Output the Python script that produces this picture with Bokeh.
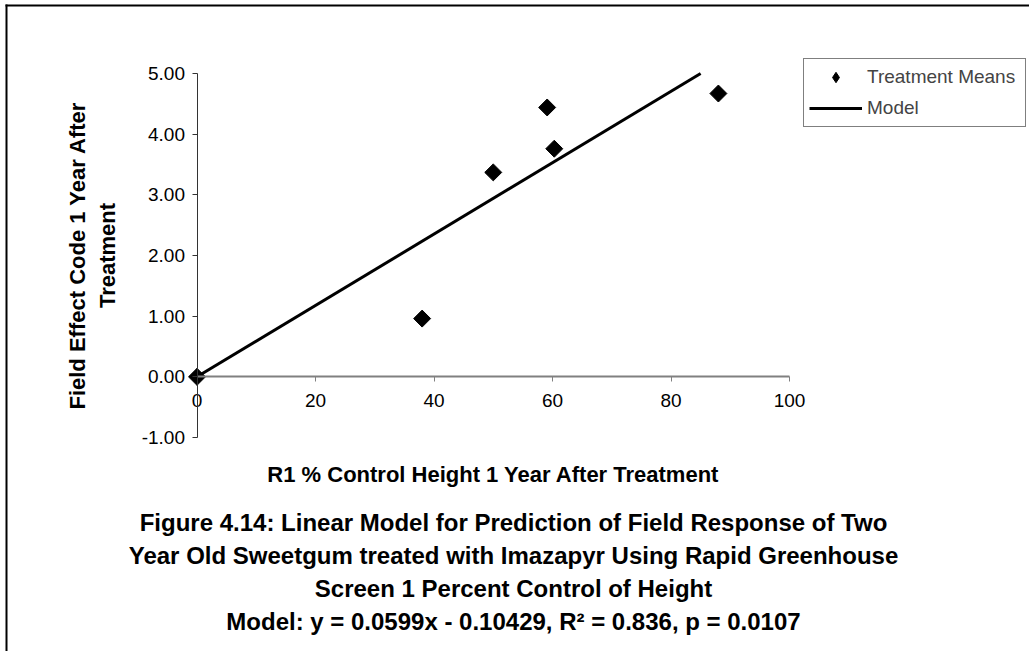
import math
from bokeh.plotting import figure
from bokeh.models import (Range1d, FixedTicker, NumeralTickFormatter, Legend,
                          LegendItem, Label, BoxAnnotation)
from bokeh.embed import file_html
from bokeh.resources import INLINE

# ---- data ----
means_x = [0.0, 38.0, 50.0, 59.1, 60.3, 88.0]
means_y = [0.0, 0.96, 3.37, 4.44, 3.76, 4.67]
model_x = [0.0, 85.0]
model_y = [0.0, 5.0]
x_ticks = [0, 20, 40, 60, 80, 100]
y_ticks = [-1, 0, 1, 2, 3, 4, 5]

series_names = ["Treatment Means", "Model"]
x_title = "R1 % Control Height 1 Year After Treatment"
y_title = "Field Effect Code 1 Year After\nTreatment"
caption_lines = [
    "Figure 4.14: Linear Model for Prediction of Field Response of Two",
    "Year Old Sweetgum treated with Imazapyr Using Rapid Greenhouse",
    "Screen 1 Percent Control of Height",
    "Model: y = 0.0599x - 0.10429, R\u00b2 = 0.836, p = 0.0107",
]

FONT = "Liberation Sans"
W, H = 1029, 651

# layout: plot area (x 0..100, y -1..5) placed in pixels; the whole canvas is the frame
X0_PX, X100_PX = 196.5, 789.0
YM1_PX, Y5_PX = 437.0, 73.0
sx = (X100_PX - X0_PX) / 100.0
sy = (YM1_PX - Y5_PX) / 6.0


def dx(px):
    return (px - X0_PX) / sx


def dy(py):
    return 5.0 - (py - Y5_PX) / sy


p = figure(width=W, height=H,
           x_range=Range1d(dx(0), dx(W)), y_range=Range1d(dy(H), dy(0)),
           output_backend="svg", toolbar_location=None,
           min_border_left=0, min_border_right=0,
           min_border_top=0, min_border_bottom=0)
p.outline_line_color = None
p.xgrid.visible = False
p.ygrid.visible = False
p.background_fill_color = "white"
p.border_fill_color = "white"

# outer chart border (top and left edges; the rest lies beyond the picture)
p.add_layout(BoxAnnotation(left=dx(5), right=dx(W + 20), top=dy(4), bottom=dy(6),
                           fill_color="black", fill_alpha=1, line_color=None))
p.add_layout(BoxAnnotation(left=dx(5), right=dx(7), top=dy(4), bottom=dy(H + 20),
                           fill_color="black", fill_alpha=1, line_color=None))

# axes crossing at the origin
xa = p.xaxis[0]
ya = p.yaxis[0]
xa.fixed_location = 0
ya.fixed_location = 0
xa.bounds = (0, 100)
ya.bounds = (-1, 5)
xa.ticker = FixedTicker(ticks=x_ticks)
ya.ticker = FixedTicker(ticks=y_ticks)
ya.formatter = NumeralTickFormatter(format="0.00")
xa.minor_tick_line_color = None
ya.minor_tick_line_color = None
xa.major_tick_in = 0
ya.major_tick_in = 0
xa.major_tick_out = 5
ya.major_tick_out = 5
xa.axis_line_color = "#808080"
xa.axis_line_width = 2
xa.major_tick_line_color = "#808080"
xa.major_tick_line_width = 1
ya.axis_line_color = "#333333"
ya.major_tick_line_color = "#333333"
for ax in (xa, ya):
    ax.major_label_text_font = FONT
    ax.major_label_text_font_size = "19px"
    ax.major_label_text_color = "black"
    ax.axis_label_text_font = FONT
    ax.axis_label_text_font_style = "bold"
    ax.axis_label_text_font_size = "22px"
    ax.axis_label_text_color = "black"
xa.major_label_standoff = 12
ya.major_label_standoff = 7
xa.axis_label = x_title
xa.axis_label_standoff = 52
ya.axis_label = y_title
ya.axis_label_standoff = 19

# glyphs
model_r = p.line(model_x, model_y, line_color="black", line_width=3)
# diamond key for the legend (legend swatches are drawn unrotated); it lies
# completely beneath the rotated-square markers drawn on top of it
means_key = p.scatter(means_x, means_y, marker="diamond", size=12,
                      fill_color="black", line_color="black")
means_r = p.scatter(means_x, means_y, marker="square", size=12,
                    angle=math.pi / 4, fill_color="black", line_color="black")

legend = Legend(items=[LegendItem(label=series_names[0], renderers=[means_key]),
                       LegendItem(label=series_names[1], renderers=[model_r])],
                location=(803, H - 127), orientation="vertical")
legend.margin = 0
legend.padding = 5
legend.spacing = 5
legend.glyph_width = 53
legend.glyph_height = 26
legend.label_height = 26
legend.label_width = 153
legend.label_standoff = 5
legend.label_text_font = FONT
legend.label_text_font_size = "19px"
legend.border_line_color = "black"
legend.border_line_width = 1
legend.background_fill_color = "white"
legend.background_fill_alpha = 1.0
p.add_layout(legend, "center")

caption = Label(x=dx(513), y=dy(571.5), x_units="data", y_units="data",
                text="\n".join(caption_lines), text_align="center",
                text_baseline="middle", text_font=FONT,
                text_font_style="bold", text_font_size="24px",
                text_line_height=1.22, text_color="black")
p.add_layout(caption)

open("out.html", "w").write(file_html(p, INLINE))
